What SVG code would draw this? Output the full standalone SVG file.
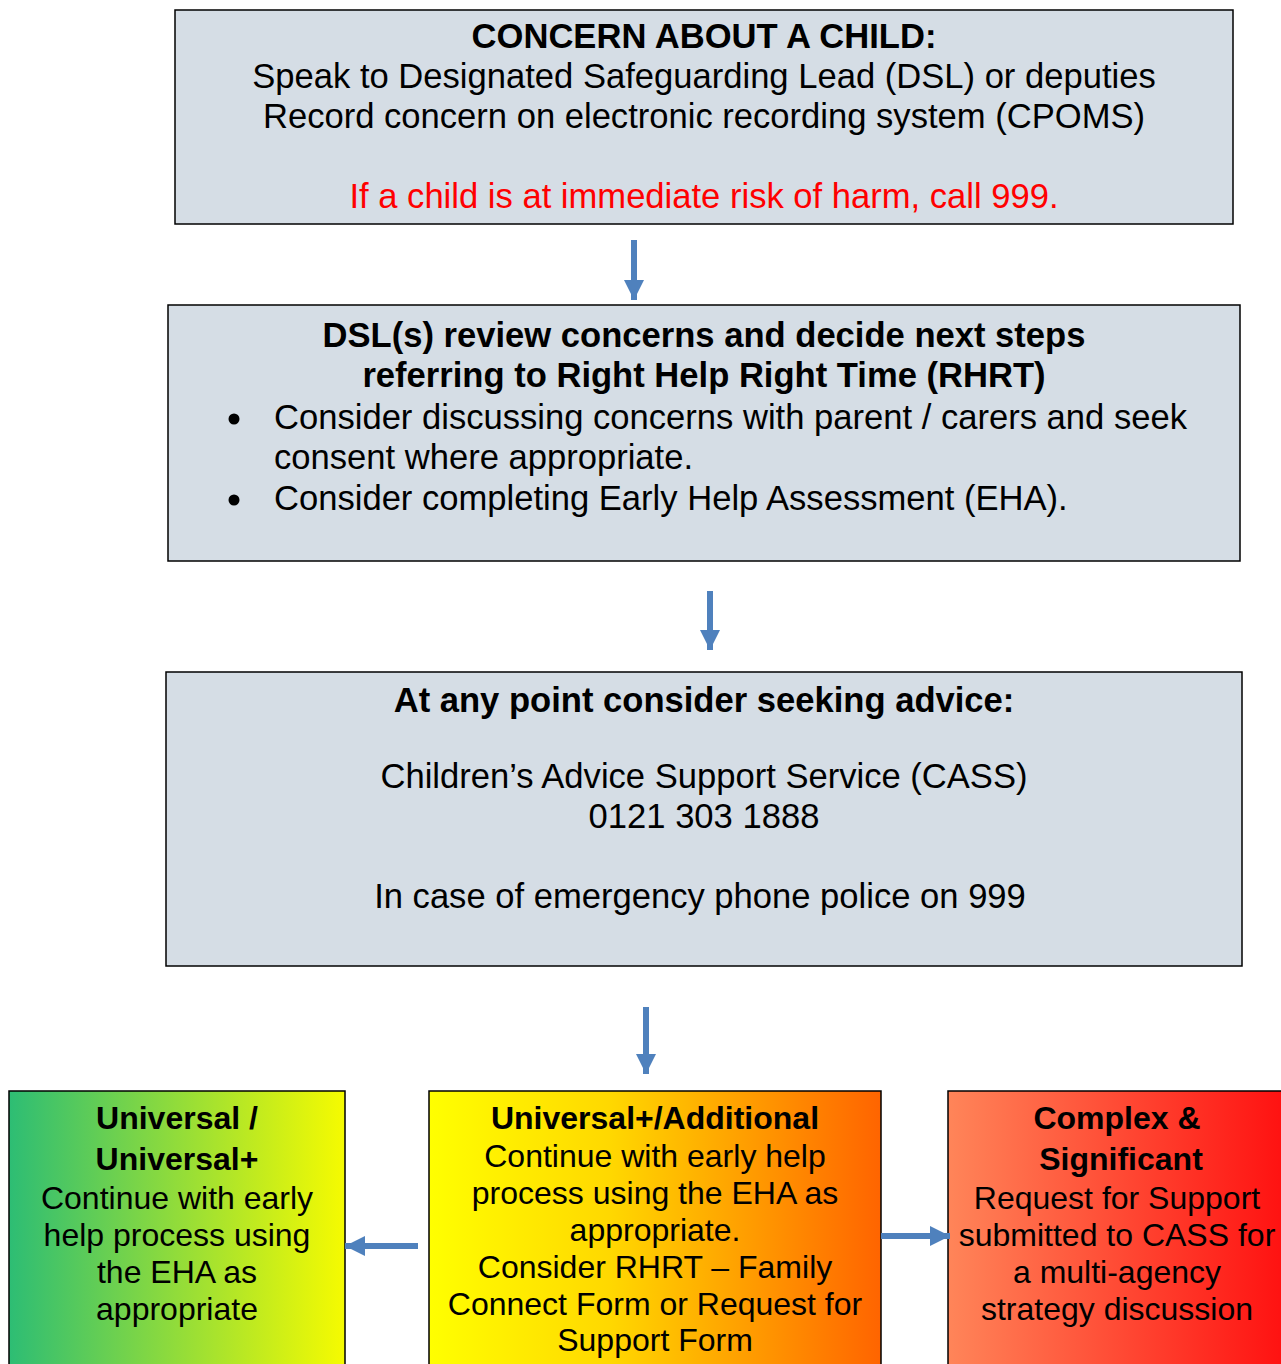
<svg xmlns="http://www.w3.org/2000/svg" width="1281" height="1364" viewBox="0 0 1281 1364">
<defs>
<style>
.box{fill:#d5dde5;stroke:#000;stroke-width:1.5}
.t{font-family:"Liberation Sans",Arial,sans-serif;font-size:34.6px;fill:#000;text-anchor:middle}
.b{font-weight:bold}
.l{text-anchor:start}
.red{fill:#ff0000}
.bt{font-family:"Liberation Sans",Arial,sans-serif;font-size:32px;fill:#000;text-anchor:middle}
.arr{stroke:#4f81bd;stroke-width:6;fill:none}
.gb{stroke:#000;stroke-width:1.5}
</style>
<linearGradient id="gA" x1="0" y1="0" x2="1" y2="0"><stop offset="0" stop-color="#2dbd74"/><stop offset="1" stop-color="#f6fb00"/></linearGradient>
<linearGradient id="gB" x1="0" y1="0" x2="1" y2="0"><stop offset="0" stop-color="#ffff00"/><stop offset="0.4" stop-color="#ffd800"/><stop offset="1" stop-color="#ff6400"/></linearGradient>
<linearGradient id="gC" x1="0" y1="0" x2="1" y2="0"><stop offset="0" stop-color="#ff8559"/><stop offset="1" stop-color="#ff1010"/></linearGradient>
<marker id="ah" viewBox="0 0 10 10" refX="10" refY="5" markerWidth="3.4" markerHeight="3.4" orient="auto" markerUnits="strokeWidth"><path d="M0,0 L10,5 L0,10 z" fill="#4f81bd"/></marker>
</defs>

<g id="node-concern">
<rect class="box" x="175" y="10" width="1058" height="214"/>
<text class="t b" x="704" y="48">CONCERN ABOUT A CHILD:</text>
<text class="t" x="704" y="88">Speak to Designated Safeguarding Lead (DSL) or deputies</text>
<text class="t" x="704" y="128">Record concern on electronic recording system (CPOMS)</text>
<text class="t red" x="704" y="208">If a child is at immediate risk of harm, call 999.</text>
</g>

<g id="node-review">
<rect class="box" x="168" y="305" width="1072" height="256"/>
<text class="t b" x="704" y="347">DSL(s) review concerns and decide next steps</text>
<text class="t b" x="704" y="387">referring to Right Help Right Time (RHRT)</text>
<circle cx="234" cy="419" r="5.5"/>
<text class="t l" x="274" y="429">Consider discussing concerns with parent / carers and seek</text>
<text class="t l" x="274" y="469">consent where appropriate.</text>
<circle cx="234" cy="500" r="5.5"/>
<text class="t l" x="274" y="510">Consider completing Early Help Assessment (EHA).</text>
</g>

<g id="node-advice">
<rect class="box" x="166" y="672" width="1076" height="294"/>
<text class="t b" x="704" y="712">At any point consider seeking advice:</text>
<text class="t" x="704" y="788">Children’s Advice Support Service (CASS)</text>
<text class="t" x="704" y="828">0121 303 1888</text>
<text class="t" x="700" y="908">In case of emergency phone police on 999</text>
</g>

<g id="node-universal">
<rect class="gb" x="9" y="1091" width="336" height="280" fill="url(#gA)"/>
<text class="bt b" x="177" y="1129">Universal /</text>
<text class="bt b" x="177" y="1170">Universal+</text>
<text class="bt" x="177" y="1209">Continue with early</text>
<text class="bt" x="177" y="1246">help process using</text>
<text class="bt" x="177" y="1283">the EHA as</text>
<text class="bt" x="177" y="1320">appropriate</text>
</g>

<g id="node-additional">
<rect class="gb" x="429" y="1091" width="452" height="280" fill="url(#gB)"/>
<text class="bt b" x="655" y="1129">Universal+/Additional</text>
<text class="bt" x="655" y="1167">Continue with early help</text>
<text class="bt" x="655" y="1204">process using the EHA as</text>
<text class="bt" x="655" y="1241">appropriate.</text>
<text class="bt" x="655" y="1278">Consider RHRT – Family</text>
<text class="bt" x="655" y="1315">Connect Form or Request for</text>
<text class="bt" x="655" y="1351">Support Form</text>
</g>

<g id="node-complex">
<rect class="gb" x="948" y="1091" width="340" height="280" fill="url(#gC)"/>
<text class="bt b" x="1117" y="1129">Complex &amp;</text>
<text class="bt b" x="1121" y="1170">Significant</text>
<text class="bt" x="1117" y="1209">Request for Support</text>
<text class="bt" x="1117" y="1246">submitted to CASS for</text>
<text class="bt" x="1117" y="1283">a multi-agency</text>
<text class="bt" x="1117" y="1320">strategy discussion</text>
</g>

<g id="connectors">
<line class="arr" x1="634" y1="240" x2="634" y2="300" marker-end="url(#ah)"/>
<line class="arr" x1="710" y1="591" x2="710" y2="650" marker-end="url(#ah)"/>
<line class="arr" x1="646" y1="1007" x2="646" y2="1074" marker-end="url(#ah)"/>
<line class="arr" x1="418" y1="1246" x2="345" y2="1246" marker-end="url(#ah)"/>
<line class="arr" x1="881" y1="1236" x2="950" y2="1236" marker-end="url(#ah)"/>
</g>
</svg>
